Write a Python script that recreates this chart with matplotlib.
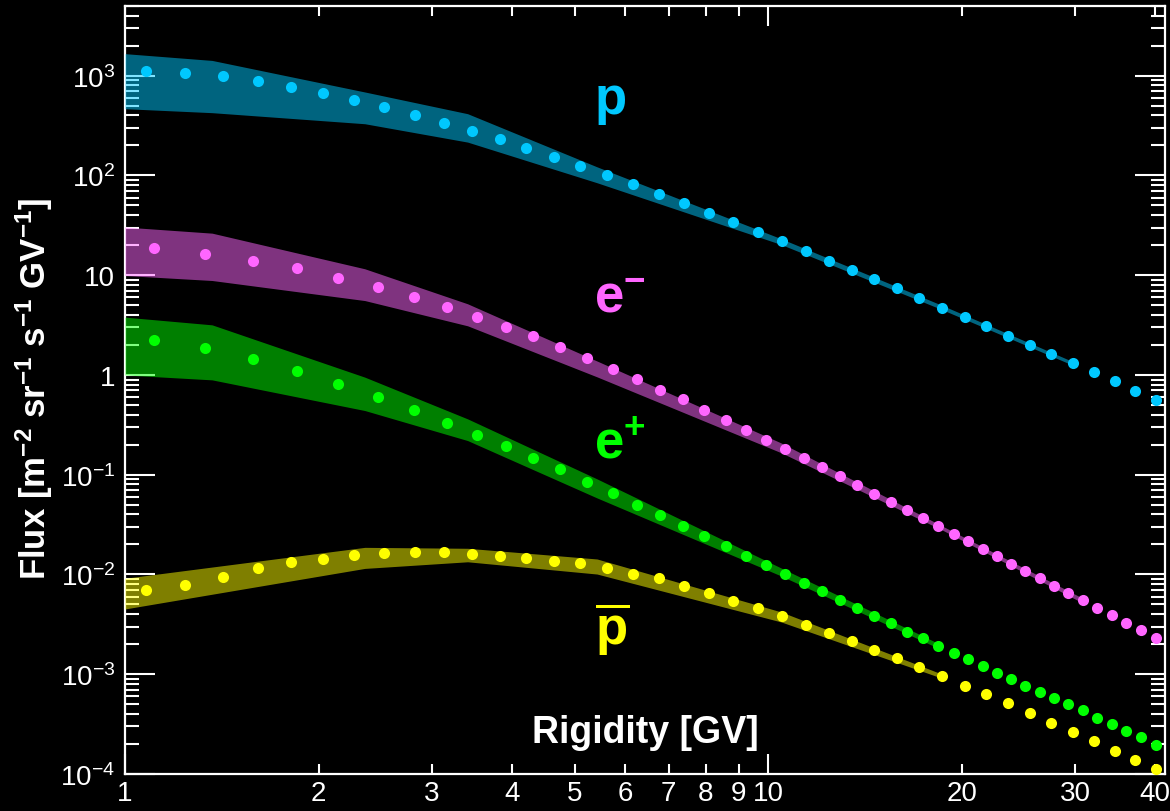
import numpy as np
import matplotlib.pyplot as plt
from matplotlib.ticker import FixedLocator, FixedFormatter, LogLocator, NullFormatter

plt.rcParams['font.family'] = ['Liberation Sans', 'DejaVu Sans']
plt.rcParams['mathtext.fontset'] = 'custom'
plt.rcParams['mathtext.rm'] = 'Liberation Sans'
plt.rcParams['mathtext.it'] = 'Liberation Sans:italic'
plt.rcParams['mathtext.bf'] = 'Liberation Sans:bold'

# --- measured points: protons / antiprotons share one rigidity grid ---
rig_p = [1.08, 1.24, 1.42, 1.61, 1.81, 2.03, 2.27, 2.53, 2.82, 3.13,
         3.46, 3.83, 4.20, 4.64, 5.10, 5.61, 6.16, 6.76, 7.39, 8.09,
         8.83, 9.64, 10.5, 11.45, 12.44, 13.51, 14.63, 15.85, 17.19, 18.65,
         20.2, 21.81, 23.62, 25.56, 27.55, 29.74, 32.1, 34.56, 37.22, 40.12]
flux_p = [1114, 1064, 984, 885, 771, 670, 570, 481, 404, 336,
          279, 230, 188, 153, 124, 100, 81.2, 65.1, 52.4, 42.0,
          33.8, 27.3, 21.8, 17.4, 13.9, 11.3, 9.14, 7.36, 5.89, 4.74,
          3.83, 3.08, 2.48, 2.00, 1.62, 1.31, 1.06, 0.867, 0.698, 0.567]
flux_pbar = [7.00e-3, 7.91e-3, 9.51e-3, 1.162e-2, 1.343e-2, 1.419e-2, 1.559e-2, 1.655e-2, 1.670e-2, 1.670e-2,
             1.606e-2, 1.545e-2, 1.448e-2, 1.349e-2, 1.289e-2, 1.154e-2, 1.012e-2, 9.17e-3, 7.67e-3, 6.49e-3,
             5.40e-3, 4.56e-3, 3.84e-3, 3.10e-3, 2.59e-3, 2.13e-3, 1.76e-3, 1.44e-3, 1.17e-3, 9.53e-4,
             7.67e-4, 6.37e-4, 5.11e-4, 4.06e-4, 3.27e-4, 2.63e-4, 2.14e-4, 1.71e-4, 1.38e-4, 1.11e-4]

# electrons / positrons share another grid
rig_e = [1.111, 1.333, 1.583, 1.851, 2.147, 2.472, 2.815, 3.168, 3.531, 3.913,
         4.315, 4.753, 5.230, 5.735, 6.249, 6.801, 7.366, 7.960, 8.595, 9.244,
         9.918, 10.63, 11.36, 12.13, 12.94, 13.77, 14.62, 15.52, 16.45, 17.40,
         18.40, 19.42, 20.46, 21.58, 22.68, 23.88, 25.10, 26.42, 27.78, 29.25,
         30.82, 32.45, 34.20, 36.05, 38.03, 40.12]
flux_em = [18.8, 16.4, 13.9, 11.7, 9.42, 7.60, 6.03, 4.79, 3.80, 3.04,
           2.43, 1.90, 1.47, 1.16, 0.904, 0.713, 0.569, 0.444, 0.352, 0.281,
           0.223, 0.181, 0.146, 0.119, 0.0966, 0.0791, 0.0646, 0.0531, 0.0442, 0.0365,
           0.0307, 0.0257, 0.0215, 0.0179, 0.0152, 0.0128, 0.0108, 0.00917, 0.00773, 0.00657,
           0.00551, 0.00465, 0.00393, 0.00329, 0.00277, 0.00232]
flux_ep = [2.23, 1.86, 1.45, 1.10, 0.814, 0.603, 0.447, 0.331, 0.251, 0.193,
           0.147, 0.113, 0.0847, 0.0657, 0.0501, 0.0395, 0.0304, 0.0243, 0.0193, 0.0153,
           0.0124, 0.0101, 0.00822, 0.00675, 0.00558, 0.00459, 0.00386, 0.00323, 0.00267, 0.00229,
           0.00192, 0.00164, 0.00141, 0.00122, 0.00104, 8.89e-4, 7.67e-4, 6.68e-4, 5.73e-4, 5.02e-4,
           4.35e-4, 3.66e-4, 3.14e-4, 2.69e-4, 2.34e-4, 1.96e-4]

# --- model bands (upper / lower bounds) ---
band_rig_p = [1.0, 1.366, 2.36, 3.41, 5.42, 10.48, 18.65, 29.7]
p_hi = [1664, 1423, 687, 416, 122, 23.2, 4.98, 1.37]
p_lo = [467, 426, 330, 216, 84.5, 20.3, 4.51, 1.26]

band_rig_em = [1.0, 1.366, 2.36, 3.41, 5.42, 10.48, 18.65, 30.8]
em_hi = [30.4, 26.4, 11.6, 5.17, 1.38, 0.208, 0.0306, 0.0058]
em_lo = [9.93, 8.85, 5.57, 3.11, 0.957, 0.166, 0.0279, 0.0052]

band_rig_ep = [1.0, 1.366, 2.36, 3.41, 5.42, 10.48, 18.65]
ep_hi = [3.80, 3.18, 0.951, 0.363, 0.0908, 0.0116, 0.00195]
ep_lo = [1.00, 0.893, 0.440, 0.220, 0.0585, 0.00966, 0.00175]

band_rig_pbar = [1.0, 2.36, 3.41, 5.42, 10.48, 18.65]
pbar_hi = [9.16e-3, 1.87e-2, 1.83e-2, 1.43e-2, 4.21e-3, 1.0e-3]
pbar_lo = [4.51e-3, 1.15e-2, 1.34e-2, 1.01e-2, 3.34e-3, 9.1e-4]

c_p = '#00C8FF'
c_em = '#FF66FF'
c_ep = '#00FF00'
c_pbar = '#FFFF00'

species = [
    (rig_p, flux_p, band_rig_p, p_hi, p_lo, c_p),
    (rig_e, flux_em, band_rig_em, em_hi, em_lo, c_em),
    (rig_e, flux_ep, band_rig_ep, ep_hi, ep_lo, c_ep),
    (rig_p, flux_pbar, band_rig_pbar, pbar_hi, pbar_lo, c_pbar),
]

fig = plt.figure(figsize=(11.7, 8.12), dpi=100, facecolor='black')
ax = fig.add_axes([0.1068, 0.0456, 0.8889, 0.9458], facecolor='black')

for rig, flux, brig, hi, lo, col in species:
    # half-transparent band sits over the ticks, dots on top
    ax.fill_between(brig, lo, hi, color=col, alpha=0.5, linewidth=0, zorder=3)
    ax.plot(rig, flux, 'o', color=col, ms=8, mew=0, zorder=4)

ax.set_xscale('log')
ax.set_yscale('log')
ax.set_xlim(1.0, 41.4)
ax.set_ylim(1e-4, 5.0e3)

# x axis: 1 and 10 long, the rest short but labelled
x_minor = [2, 3, 4, 5, 6, 7, 8, 9, 20, 30, 40]
ax.xaxis.set_major_locator(FixedLocator([1, 10]))
ax.xaxis.set_major_formatter(FixedFormatter(['1', '10']))
ax.xaxis.set_minor_locator(FixedLocator(x_minor))
ax.xaxis.set_minor_formatter(FixedFormatter([str(v) for v in x_minor]))

y_major = [1e-4, 1e-3, 1e-2, 1e-1, 1, 10, 1e2, 1e3]
y_labels = [r'$10^{-4}$', r'$10^{-3}$', r'$10^{-2}$', r'$10^{-1}$', '1', '10',
            r'$10^{2}$', r'$10^{3}$']
ax.yaxis.set_major_locator(FixedLocator(y_major))
ax.yaxis.set_major_formatter(FixedFormatter(y_labels))
ax.yaxis.set_minor_locator(LogLocator(base=10, subs=np.arange(2, 10), numticks=20))
ax.yaxis.set_minor_formatter(NullFormatter())

ax.tick_params(which='both', direction='in', top=True, right=True,
               color='white', labelcolor='white', width=1.5, labelsize=20)
ax.tick_params(axis='x', which='major', length=14.4, pad=4)
ax.tick_params(axis='x', which='minor', length=7.2, pad=4)
ax.tick_params(axis='y', which='major', length=21.6, pad=7)
ax.tick_params(axis='y', which='minor', length=10)

for s in ax.spines.values():
    s.set_color('white')
    s.set_linewidth(1.6)

# particle labels
ax.text(0.452, 0.861, 'p', transform=ax.transAxes, ha='left', va='baseline',
        fontsize=38, fontweight='bold', color=c_p)
ax.text(0.451, 0.602, r'$\mathbf{e^{-}}$', transform=ax.transAxes, ha='left',
        va='baseline', fontsize=38, color=c_em)
ax.text(0.451, 0.413, r'$\mathbf{e^{+}}$', transform=ax.transAxes, ha='left',
        va='baseline', fontsize=38, color=c_ep)
ax.text(0.452, 0.169, r'$\mathbf{\overline{p}}$', transform=ax.transAxes, ha='left',
        va='baseline', fontsize=38, color=c_pbar)

ax.text(0.5, 0.042, 'Rigidity [GV]', transform=ax.transAxes, ha='center',
        va='baseline', fontsize=27, fontweight='bold', color='white')
fig.text(0.029, 0.521, r'$\mathbf{Flux\ [m^{-2}\ sr^{-1}\ s^{-1}\ GV^{-1}]}$',
         rotation=90, ha='center', va='center', fontsize=25, color='white')

fig.savefig('out.png', dpi=100, facecolor='black')
